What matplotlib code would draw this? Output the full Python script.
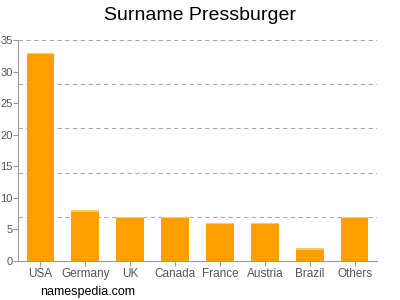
import numpy as np
import matplotlib.pyplot as plt

plt.rcParams["font.family"] = ["Liberation Sans", "DejaVu Sans"]

countries = ["USA", "Germany", "UK", "Canada", "France", "Austria", "Brazil", "Others"]
counts = [33, 8, 7, 7, 6, 6, 2, 7]
y_ticks = [0, 5, 10, 15, 20, 25, 30, 35]
grid_levels = [7, 14, 21, 28, 35]

fig = plt.figure(figsize=(4, 3), dpi=100)
ax = fig.add_axes([0.045, 0.13, 0.8975, 0.7367])

x = np.arange(len(countries))
ax.bar(x, counts, width=0.62, color="#FFA000", zorder=2)
ax.bar(x, [0.2] * len(counts), bottom=np.array(counts) - 0.2, width=0.62,
       color="#FFC966", zorder=2)

for g in grid_levels:
    ax.axhline(g, color="#AAAAAA", lw=0.8, ls=(0, (4, 3)), zorder=1)

ax.set_xlim(-0.5, len(countries) - 0.5)
ax.set_ylim(0, 35)
ax.set_yticks(y_ticks)
ax.set_xticks(x)
ax.set_xticklabels(countries)

for s in ["top", "right"]:
    ax.spines[s].set_visible(False)
for s in ["left", "bottom"]:
    ax.spines[s].set_color("#999999")
    ax.spines[s].set_linewidth(0.8)
ax.tick_params(colors="#999999", labelcolor="#555555", labelsize=8, length=3.5, width=0.8, pad=0.5)
ax.tick_params(axis="x", labelsize=8.5, pad=1.5)

fig.text(0.5, 0.948, "Surname Pressburger", ha="center", va="center", fontsize=14)
fig.text(0.1, 0.027, "namespedia.com", ha="left", va="center", fontsize=9)

fig.savefig("out.png")
